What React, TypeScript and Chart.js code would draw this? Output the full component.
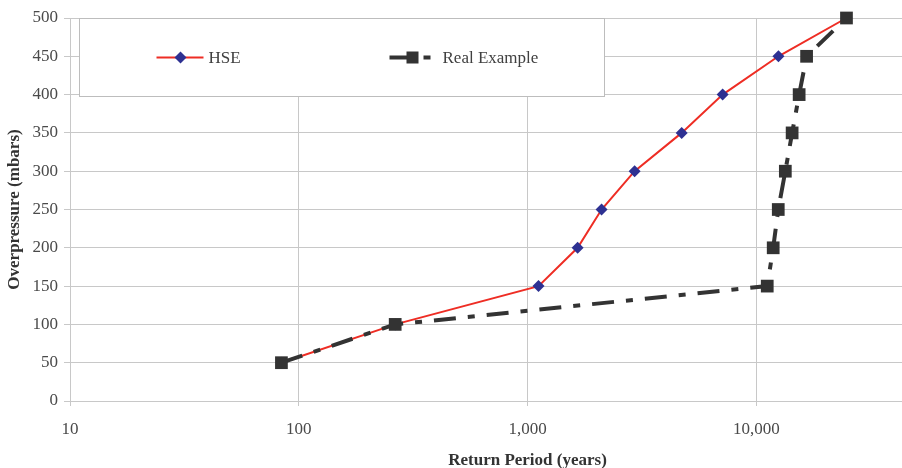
import React, { useEffect, useRef } from "react";
import { Chart, registerables } from "chart.js";

Chart.register(...registerables);

const pressures = [50, 100, 150, 200, 250, 300, 350, 400, 450, 500];
const hseReturn = [84, 264, 1117, 1656, 2108, 2939, 4720, 7130, 12500, 24800];
const realReturn = [84, 264, 11170, 11860, 12480, 13400, 14350, 15400, 16600, 24800];
const xTickValues = [10, 100, 1000, 10000];
const seriesNames = ["HSE", "Real Example"];

const FONT = "'Liberation Serif', 'Times New Roman', serif";
const RED = "#ee2d24";
const NAVY = "#2e3192";
const DARK = "#333333";
const GRID = "#c8c8c8";
const DASH = [22, 12, 7, 12];
const FS = 17;

const legendPlugin = {
  id: "boxLegend",
  afterDraw(chart: any) {
    const ctx = chart.ctx;
    const area = chart.chartArea;
    const bx = area.left + 9.5;
    const by = area.top + 0.5;
    const bw = 525;
    const bh = 78;
    ctx.save();
    ctx.fillStyle = "#ffffff";
    ctx.fillRect(bx, by, bw, bh);
    ctx.strokeStyle = "#bdbdbd";
    ctx.lineWidth = 1;
    ctx.strokeRect(bx, by, bw, bh);
    const cy = by + 39;
    // HSE
    ctx.strokeStyle = RED;
    ctx.lineWidth = 2;
    ctx.beginPath();
    ctx.moveTo(bx + 77, cy);
    ctx.lineTo(bx + 124, cy);
    ctx.stroke();
    ctx.fillStyle = NAVY;
    const dx = bx + 101;
    ctx.beginPath();
    ctx.moveTo(dx - 6, cy);
    ctx.lineTo(dx, cy - 6);
    ctx.lineTo(dx + 6, cy);
    ctx.lineTo(dx, cy + 6);
    ctx.closePath();
    ctx.fill();
    ctx.font = FS + "px " + FONT;
    ctx.fillStyle = "#404040";
    ctx.textBaseline = "middle";
    ctx.textAlign = "left";
    ctx.fillText(seriesNames[0], bx + 129, cy + 1);
    // Real Example
    ctx.strokeStyle = DARK;
    ctx.lineWidth = 4;
    ctx.setLineDash(DASH);
    ctx.beginPath();
    ctx.moveTo(bx + 310, cy);
    ctx.lineTo(bx + 356, cy);
    ctx.stroke();
    ctx.setLineDash([]);
    ctx.fillStyle = DARK;
    ctx.fillRect(bx + 327, cy - 6, 12, 12);
    ctx.fillStyle = "#404040";
    ctx.fillText(seriesNames[1], bx + 363, cy + 1);
    ctx.restore();
  },
};

export default function App() {
  const ref = useRef<HTMLCanvasElement | null>(null);
  useEffect(() => {
    document.body.style.margin = "0";
    const canvas = ref.current;
    if (!canvas) return;
    const chart = new Chart(canvas, {
      type: "scatter",
      data: {
        datasets: [
          {
            label: seriesNames[1],
            data: realReturn.map((x, i) => ({ x, y: pressures[i] })),
            showLine: true,
            borderColor: DARK,
            backgroundColor: DARK,
            borderWidth: 4,
            borderDash: DASH,
            pointStyle: "rect",
            pointRadius: 9,
            pointBorderWidth: 0,
            pointBackgroundColor: DARK,
            clip: false,
            order: 0,
          } as any,
          {
            label: seriesNames[0],
            data: hseReturn.map((x, i) => ({ x, y: pressures[i] })),
            showLine: true,
            borderColor: RED,
            backgroundColor: NAVY,
            borderWidth: 2,
            pointStyle: "rectRot",
            pointRadius: 6,
            pointBorderWidth: 0,
            pointBackgroundColor: NAVY,
            clip: false,
            order: 1,
          } as any,
        ],
      },
      options: {
        animation: false,
        responsive: false,
        maintainAspectRatio: false,
        layout: { padding: { top: 18, right: 0, left: 0, bottom: 0 } },
        plugins: {
          legend: { display: false },
          tooltip: { enabled: false },
        },
        scales: {
          x: {
            type: "logarithmic",
            min: 10,
            max: 100000,
            afterBuildTicks: (scale: any) => {
              scale.ticks = xTickValues.map((v) => ({ value: v }));
            },
            afterFit: (scale: any) => {
              scale.height = 67;
            },
            grid: { color: GRID, tickLength: 5, lineWidth: 1 },
            border: { color: GRID },
            ticks: {
              color: "#4a4a4a",
              font: { family: FONT, size: FS },
              padding: 13,
              maxRotation: 0,
              autoSkip: false,
              callback: (v: any) => Number(v).toLocaleString("en-US"),
            },
            title: {
              display: true,
              text: "Return Period (years)",
              color: "#333333",
              font: { family: FONT, size: FS, weight: "bold" },
              padding: { top: 0, bottom: -3 },
            },
          },
          y: {
            min: 0,
            max: 500,
            afterFit: (scale: any) => {
              scale.width = 70;
            },
            grid: { color: GRID, tickLength: 6, lineWidth: 1 },
            border: { color: GRID },
            ticks: {
              stepSize: 50,
              color: "#4a4a4a",
              font: { family: FONT, size: FS },
              padding: 6,
            },
            title: {
              display: true,
              text: "Overpressure (mbars)",
              color: "#333333",
              font: { family: FONT, size: FS, weight: "bold" },
              padding: { top: 4, bottom: 0 },
            },
          },
        },
      } as any,
      plugins: [legendPlugin],
    });
    return () => chart.destroy();
  }, []);
  return (
    <div style={{ width: 902, height: 468, overflow: "hidden", position: "relative" }}>
      <canvas ref={ref} width={994} height={468} style={{ display: "block", width: 994, height: 468 }} />
    </div>
  );
}
